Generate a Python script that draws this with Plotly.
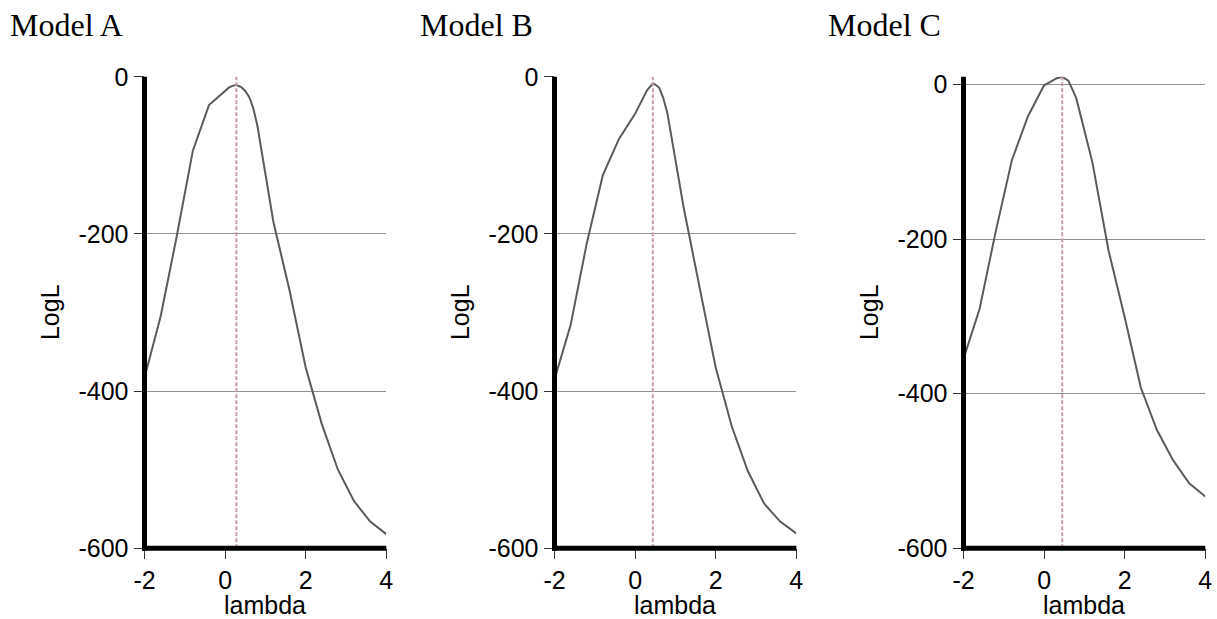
import plotly.graph_objects as go

# Profile log-likelihood over the Box-Cox lambda grid, one curve per model
lam_a = [-2.0, -1.6, -1.2, -0.8, -0.4, 0.0, 0.1, 0.2, 0.28, 0.4, 0.5, 0.6, 0.7, 0.8,
         1.2, 1.6, 2.0, 2.4, 2.8, 3.2, 3.6, 4.0]
logl_a = [-383, -305, -203, -94, -36, -17, -13.5, -11.2, -10.6, -13, -18, -26, -40, -62,
          -185, -272, -370, -442, -500, -540, -566, -582]

lam_b = [-2.0, -1.6, -1.2, -0.8, -0.4, 0.0, 0.1, 0.2, 0.3, 0.44, 0.5, 0.6, 0.7, 0.8,
         1.2, 1.6, 2.0, 2.4, 2.8, 3.2, 3.6, 4.0]
logl_b = [-385, -316, -212, -125, -79, -47, -37, -27, -17, -8.5, -9.8, -14, -27, -46,
          -165, -268, -370, -445, -502, -543, -566, -581]

lam_c = [-2.0, -1.6, -1.2, -0.8, -0.4, 0.0, 0.2, 0.3, 0.45, 0.6, 0.7, 0.8,
         1.2, 1.6, 2.0, 2.4, 2.8, 3.2, 3.6, 4.0]
logl_c = [-355, -290, -190, -98, -41, -1, 4.7, 7.8, 10, 5, -6, -18,
          -101, -215, -301, -392, -447, -486, -516, -533]

# Maximising lambda for each model
best_lam = [0.28, 0.44, 0.45]

titles = ["Model A", "Model B", "Model C"]
y_top = [0, 0, 10]
y_bottom = -600
x_range = [-2, 4]
x_ticks = [-2, 0, 2, 4]
x_ticktext = ["-2", "0", "2", "4"]
y_ticks = [-600, -400, -200, 0]
y_ticktext = ["-600", "-400", "-200", "0"]

W, H = 1217, 619
# plot areas in pixels (left, right) and shared (top, bottom)
panel_px = [(144.5, 386.3), (554.5, 796.3), (963.5, 1205.3)]
top_px, bot_px = 76.8, 548.3

curve_color = "#5b5b5b"
ref_color = "#c99aab"
grid_color = "#919191"
sans = "Liberation Sans, Arial, sans-serif"
serif = "Liberation Serif, Times New Roman, serif"
label_font = dict(family=sans, size=25, color="black")

fig = go.Figure()
series = [(lam_a, logl_a), (lam_b, logl_b), (lam_c, logl_c)]
ydom = [1 - bot_px / H, 1 - top_px / H]

for i, (lam, ll) in enumerate(series):
    n = "" if i == 0 else str(i + 1)
    xa, ya = "x" + n, "y" + n
    fig.add_trace(go.Scatter(x=lam, y=ll, mode="lines", xaxis=xa, yaxis=ya,
                             line=dict(color=curve_color, width=2), showlegend=False,
                             hoverinfo="skip"))
    fig.add_trace(go.Scatter(x=[best_lam[i], best_lam[i]], y=[y_bottom, y_top[i]],
                             mode="lines", xaxis=xa, yaxis=ya,
                             line=dict(color=ref_color, width=2, dash="4px,2px"),
                             showlegend=False, hoverinfo="skip"))
    x0, x1 = panel_px[i]
    xdom = [x0 / W, x1 / W]
    fig.update_layout(**{
        "xaxis" + n: dict(domain=xdom, range=x_range, tickvals=x_ticks, ticktext=x_ticktext,
                          ticks="outside", ticklen=10, tickwidth=1, tickcolor="#333",
                          showgrid=False, zeroline=False, showline=False,
                          tickfont=label_font, anchor=ya, automargin=False, fixedrange=True),
        "yaxis" + n: dict(domain=ydom, range=[y_bottom, y_top[i]], tickvals=y_ticks,
                          ticktext=y_ticktext,
                          ticks="outside", ticklen=10, tickwidth=1, tickcolor="#333",
                          showgrid=True, gridcolor=grid_color, gridwidth=1,
                          zeroline=False, showline=False,
                          tickfont=label_font, anchor=xa, automargin=False, fixedrange=True),
    })
    # heavy black axis lines centred on the plot edges
    px0, px1 = x0 / W, x1 / W
    py0, py1 = ydom
    lw = 5
    fig.add_shape(type="line", xref="paper", yref="paper", x0=px0, x1=px0, y0=py0 - 2.5 / H,
                  y1=py1, line=dict(color="black", width=lw))
    fig.add_shape(type="line", xref="paper", yref="paper", x0=px0 - 2.5 / W, x1=px1, y0=py0,
                  y1=py0, line=dict(color="black", width=lw))
    # axis titles
    fig.add_annotation(text="LogL", xref="paper", yref="paper", textangle=-90,
                       x=(x0 - 95) / W, y=(py0 + py1) / 2, xanchor="center", yanchor="middle",
                       showarrow=False, font=label_font)
    fig.add_annotation(text="lambda", xref="paper", yref="paper",
                       x=(px0 + px1) / 2, y=1 - 605 / H, xanchor="center", yanchor="middle",
                       showarrow=False, font=label_font)
    # panel title
    fig.add_annotation(text=titles[i], xref="paper", yref="paper",
                       x=(x0 - 137) / W, y=1 - 5 / H,
                       xanchor="left", yanchor="top", showarrow=False,
                       font=dict(family=serif, size=32, color="black"))

fig.update_layout(width=W, height=H, margin=dict(l=0, r=0, t=0, b=0),
                  paper_bgcolor="white", plot_bgcolor="white", template="none")

fig.write_html("out.html")
